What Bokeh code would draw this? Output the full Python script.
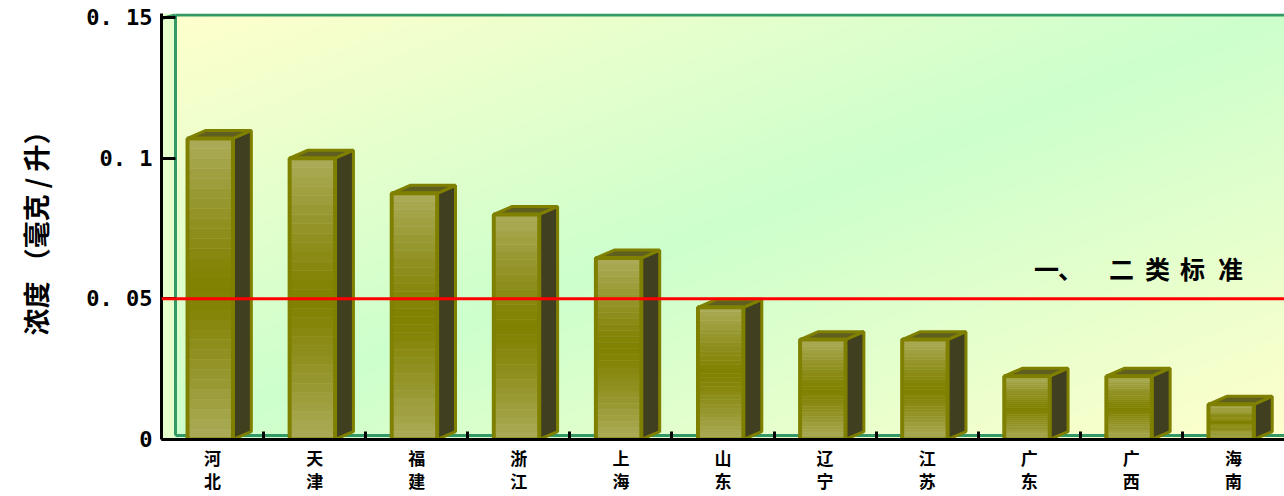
import numpy as np
from bokeh.plotting import figure
from bokeh.models import FixedTicker, Span, Range1d
from bokeh.core.properties import value
from bokeh.embed import file_html
from bokeh.resources import INLINE

# ---------------- data ----------------
provinces = ["河北", "天津", "福建", "浙江", "上海", "山东", "辽宁", "江苏", "广东", "广西", "海南"]
concentration = [0.107, 0.100, 0.0875, 0.080, 0.0645, 0.047, 0.0355, 0.0355, 0.0225, 0.0225, 0.0125]
y_ticks = [0, 0.05, 0.1, 0.15]
y_tick_labels = ["0", "0. 05", "0. 1", "0. 15"]
standard_value = 0.05
standard_label = "一、二类标准"
y_axis_title = "浓度 （毫克 / 升）"

# ---------------- layout ----------------
W, H = 1284, 496
BL, BT, BB, BR = 161, 13, 56, 0
n = len(provinces)
frame_h = H - BT - BB
frame_w = W - BL - BR
px_y = 2820.0                     # pixels per unit on y
px_x = frame_w / n                # pixels per category
y_top = frame_h / px_y

CJK = "Noto Sans CJK SC"

p = figure(width=W, height=H, output_backend="svg", toolbar_location=None,
           x_range=Range1d(0, n), y_range=Range1d(0, y_top),
           min_border_left=BL, min_border_top=BT, min_border_bottom=BB, min_border_right=BR)
p.outline_line_color = None
p.grid.visible = False
p.background_fill_color = "white"
p.border_fill_color = "white"

# ---------------- background gradient ----------------
ny, nx = 120, 400
yy, xx = np.mgrid[0:ny, 0:nx]
xn = xx / (nx - 1)
yt = 1 - yy / (ny - 1)
t = (xn + yt) / 2
f = 1 - np.abs(2 * t - 1)
img = np.empty((ny, nx), dtype=np.uint32)
view = img.view(dtype=np.uint8).reshape((ny, nx, 4))
view[..., 0] = np.round(255 - 51 * f).astype(np.uint8)
view[..., 1] = 255
view[..., 2] = 204
view[..., 3] = 255
p.image_rgba(image=[img], x=0, y=0, dw=n, dh=y_top)

# ---------------- 3D wall ----------------
wall_dx = 14 / px_x
floor_dy = 4 / px_y
green = "#339966"
p.quad(left=0, right=wall_dx, bottom=0, top=y_top, fill_color="#E4FFCC", line_color=None)
p.segment(x0=[wall_dx, wall_dx, wall_dx, 0],
          y0=[floor_dy, y_top - 1.5 / px_y, floor_dy, y_top - 5 / px_y],
          x1=[wall_dx, n + 1, n + 1, wall_dx],
          y1=[y_top - 1.5 / px_y, y_top - 1.5 / px_y, floor_dy, y_top - 1.5 / px_y],
          line_color=green, line_width=3)

# ---------------- bars ----------------
centers = [i + 0.5 for i in range(n)]
fl, fr = -0.245, 0.2
depth = 0.18
dy = 8 / px_y
olive = "#808000"

side_xs, side_ys, cap_xs, cap_ys = [], [], [], []
for c, v in zip(centers, concentration):
    side_xs.append([c + fr, c + fr + depth, c + fr + depth, c + fr])
    side_ys.append([0, dy, v + dy, v])
    cap_xs.append([c + fl, c + fr, c + fr + depth, c + fl + depth])
    cap_ys.append([v, v, v + dy, v + dy])
p.patches(xs=side_xs, ys=side_ys, fill_color="#403F20", line_color=olive, line_width=3)
p.patches(xs=cap_xs, ys=cap_ys, fill_color="#5F5F1F", line_color=olive, line_width=3)

light = np.array([172, 172, 90])
dark = np.array([128, 128, 0])
N = 30
bl, br, bb, bt, bc = [], [], [], [], []
for c, v in zip(centers, concentration):
    for k in range(N):
        s = (k + 0.5) / N
        g = abs(2 * s - 1) ** 1.2
        col = dark + (light - dark) * g
        bl.append(c + fl)
        br.append(c + fr)
        bb.append(v * k / N)
        bt.append(v * (k + 1) / N)
        bc.append("#%02x%02x%02x" % tuple(int(round(u)) for u in col))
p.quad(left=bl, right=br, bottom=bb, top=bt, fill_color=bc, line_color=bc, line_width=0.5)
p.quad(left=[c + fl for c in centers], right=[c + fr for c in centers],
       bottom=0, top=concentration, fill_alpha=0, line_color=olive, line_width=4)

# ---------------- standard line ----------------
p.add_layout(Span(location=standard_value, dimension="width", line_color="red",
                  line_width=3, level="overlay"))
label_offsets = [0, 24, 75, 111, 146, 184]
anchor_x = (1046 - 161) / px_x
p.text(x=[anchor_x] * len(standard_label), y=[standard_value + 31 / px_y] * len(standard_label),
       text=list(standard_label), x_offset=label_offsets,
       text_font=value(CJK), text_font_size="25px", text_font_style="bold",
       text_align="center", text_baseline="middle", text_color="black")

# ---------------- axes ----------------
xa = p.xaxis[0]
xa.ticker = FixedTicker(ticks=centers, minor_ticks=list(range(1, n)))
xa.major_label_overrides = {c: "\n".join(name) for c, name in zip(centers, provinces)}
xa.major_tick_in = 0
xa.major_tick_out = 0
xa.minor_tick_in = 8
xa.minor_tick_out = 0
xa.minor_tick_line_width = 3
xa.minor_tick_line_color = "black"
xa.axis_line_width = 3
xa.axis_line_color = "black"
xa.major_label_text_font = CJK
xa.major_label_text_font_size = "17px"
xa.major_label_text_font_style = "bold"
xa.major_label_text_line_height = 0.95
xa.major_label_text_color = "black"
xa.major_label_standoff = 5

ya = p.yaxis[0]
ya.ticker = FixedTicker(ticks=y_ticks, minor_ticks=[])
ya.major_label_overrides = {tv: tl for tv, tl in zip(y_ticks, y_tick_labels)}
ya.major_tick_in = 14
ya.major_tick_out = 0
ya.major_tick_line_width = 3
ya.major_tick_line_color = "black"
ya.axis_line_width = 3
ya.axis_line_color = "black"
ya.major_label_text_font = "DejaVu Sans Mono"
ya.major_label_text_font_size = "22px"
ya.major_label_text_font_style = "bold"
ya.major_label_text_color = "black"
ya.major_label_standoff = 9
ya.axis_label = y_axis_title
ya.axis_label_text_font = CJK
ya.axis_label_text_font_size = "27px"
ya.axis_label_text_font_style = "bold"
ya.axis_label_text_color = "black"
ya.axis_label_standoff = 28

open("out.html", "w").write(file_html(p, INLINE))
